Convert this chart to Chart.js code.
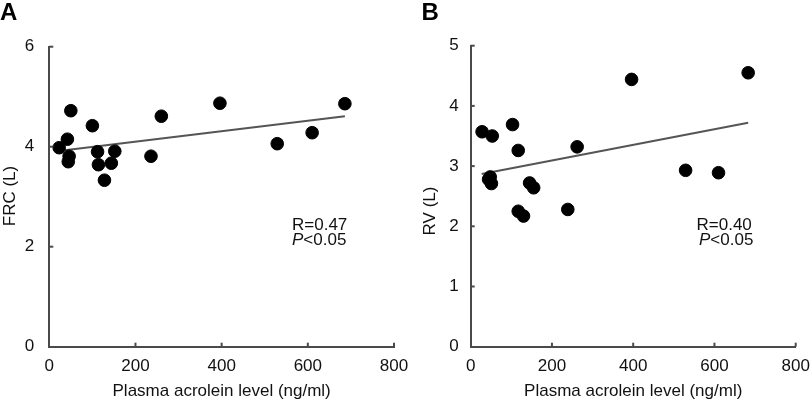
<!DOCTYPE html>
<html><head><meta charset="utf-8">
<script src="https://cdn.jsdelivr.net/npm/chart.js@4.4.1/dist/chart.umd.min.js"></script>
<style>
html,body{margin:0;padding:0;background:#fff;width:810px;height:405px;overflow:hidden;}
.wrap{position:absolute;top:0;width:420px;height:405px;}
</style></head>
<body>
<div class="wrap" style="left:0"><canvas id="cA" width="420" height="405"></canvas></div>
<div class="wrap" style="left:405px"><canvas id="cB" width="420" height="405"></canvas></div>
<script>
// Data
const acroleinA = [23, 42, 50, 46, 44, 100, 112, 114, 128, 144, 152, 236, 260, 396, 529, 610, 686];
const frc      = [3.98, 4.15, 4.72, 3.81, 3.70, 4.42, 3.90, 3.64, 3.33, 3.67, 3.91, 3.81, 4.61, 4.87, 4.06, 4.28, 4.86];
const frcFitX = [36, 686];
const frcFitY = [3.93, 4.61];

const acroleinB = [28, 53, 103, 117, 262, 48, 51, 44, 145, 155, 117, 130, 239, 396, 683, 529, 610];
const rv        = [3.57, 3.50, 3.69, 3.26, 3.32, 2.82, 2.71, 2.78, 2.72, 2.64, 2.25, 2.17, 2.28, 4.44, 4.55, 2.93, 2.89];
const rvFitX = [27, 683];
const rvFitY = [2.87, 3.72];

const xTicks = [0, 200, 400, 600, 800];
const yTicksA = [0, 2, 4, 6];
const yTicksB = [0, 1, 2, 3, 4, 5];

const AXIS = '#4a4a4a';
const FONT = "'Liberation Sans', Arial, sans-serif";
const FS = 17;

function pts(xs, ys){ return xs.map((x,i)=>({x:x, y:ys[i]})); }

function makeChart(id, cfg){
  const decor = {
    id:'decor',
    afterDraw(chart){
      const ctx = chart.ctx, xs = chart.scales.x, ys = chart.scales.y;
      ctx.save();
      ctx.strokeStyle = AXIS; ctx.lineWidth = 2;
      // inward ticks
      cfg.xTicks.forEach(v=>{ if(v===0) return; const px = xs.getPixelForValue(v);
        ctx.beginPath(); ctx.moveTo(px, ys.bottom); ctx.lineTo(px, ys.bottom-4); ctx.stroke(); });
      cfg.yTicks.forEach(v=>{ if(v===0) return; const py = ys.getPixelForValue(v);
        ctx.beginPath(); ctx.moveTo(xs.left, py); ctx.lineTo(xs.left+4, py); ctx.stroke(); });
      // panel letter
      ctx.fillStyle = '#000';
      ctx.font = "bold 24px " + FONT;
      ctx.textBaseline = 'alphabetic'; ctx.textAlign = 'left';
      ctx.fillText(cfg.letter, cfg.letterX, 20);
      // y title
      ctx.font = FS + "px " + FONT;
      ctx.fillStyle = '#111';
      ctx.save();
      ctx.translate(cfg.yTitleX, cfg.yTitleY);
      ctx.rotate(-Math.PI/2);
      ctx.textAlign = 'center'; ctx.textBaseline = 'middle';
      ctx.fillText(cfg.yTitle, 0, 0);
      ctx.restore();
      // stats
      ctx.textAlign = 'left'; ctx.textBaseline = 'alphabetic';
      ctx.font = FS + "px " + FONT;
      ctx.fillText(cfg.rText, cfg.statX, 229.5);
      ctx.font = "italic " + FS + "px " + FONT;
      ctx.fillText('P', cfg.statX2, 244.5);
      const w = ctx.measureText('P').width;
      ctx.font = FS + "px " + FONT;
      ctx.fillText('<0.05', cfg.statX2 + w, 244.5);
      ctx.restore();
    }
  };
  return new Chart(document.getElementById(id), {
    type:'scatter',
    data:{datasets:[
      {data: pts(cfg.xs, cfg.ys), backgroundColor:'#000', borderColor:'#000', pointRadius:6.3, pointHoverRadius:6.3, order:1},
      {type:'line', data: pts(cfg.fitX, cfg.fitY), borderColor:'#555', borderWidth:2, pointRadius:0, showLine:true, fill:false, order:2}
    ]},
    options:{
      responsive:false, animation:false,
      layout:{padding:{left:0, right:cfg.padRight, top:cfg.padTop, bottom:0}},
      plugins:{legend:{display:false}, tooltip:{enabled:false}},
      scales:{
        x:{type:'linear', min:0, max:800,
          afterBuildTicks(s){ s.ticks = xTicks.map(v=>({value:v})); },
          afterFit(s){ s.height = 58.3; },
          grid:{display:false, drawTicks:false},
          border:{display:true, color:AXIS, width:2},
          ticks:{padding:9, color:'#111', font:{family:FONT, size:FS}, maxRotation:0, autoSkip:false},
          title:{display:true, text:'Plasma acrolein level (ng/ml)', color:'#111', font:{family:FONT, size:FS}, padding:{top:0,bottom:3}}
        },
        y:{type:'linear', min:0, max:cfg.yMax,
          afterBuildTicks(s){ s.ticks = cfg.yTicks.map(v=>({value:v})); },
          afterFit(s){ s.width = cfg.yWidth; },
          grid:{display:false, drawTicks:false},
          border:{display:true, color:AXIS, width:2},
          ticks:{padding:cfg.yPad, color:'#111', font:{family:FONT, size:FS}}
        }
      }
    },
    plugins:[decor]
  });
}

makeChart('cA', {xs:acroleinA, ys:frc, fitX:frcFitX, fitY:frcFitY, xTicks:xTicks, yTicks:yTicksA, yMax:6,
  padRight:26, padTop:46.7, yWidth:49.3, yPad:15, letter:'A', letterX:0,
  yTitle:'FRC (L)', yTitleX:10, yTitleY:196, rText:'R=0.47', statX:292, statX2:292});
makeChart('cB', {xs:acroleinB, ys:rv, fitX:rvFitX, fitY:rvFitY, xTicks:xTicks, yTicks:yTicksB, yMax:5,
  padRight:29.3, padTop:45.7, yWidth:65.7, yPad:12, letter:'B', letterX:16.5,
  yTitle:'RV (L)', yTitleX:25, yTitleY:211, rText:'R=0.40', statX:291.5, statX2:294});
</script>
</body></html>
